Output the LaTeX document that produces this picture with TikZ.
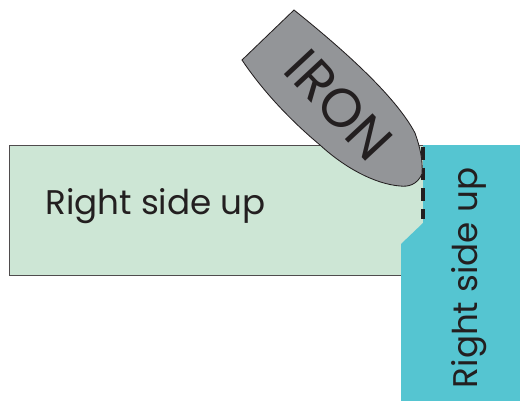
\documentclass[tikz,border=0pt]{standalone}
\usepackage{fontspec}
\setmainfont{Poppins}
\definecolor{cloth}{HTML}{CDE6D5}
\definecolor{facing}{HTML}{55C5D1}
\definecolor{ironbody}{HTML}{939598}
\definecolor{inkline}{HTML}{231F20}
\begin{document}
\begin{tikzpicture}[x=0.025cm, y=-0.025cm, every node/.style={font=\fontsize{24.3}{25}\selectfont, text=inkline}]
\useasboundingbox (0,0) rectangle (520,401);
\draw[fill=cloth,draw=inkline!80,line width=0.5pt] (9,145) rectangle (425,275);
\fill[facing] (423,145)--(520,145)--(520,401)--(401,401)--(401,244)--(423,223)--cycle;
\draw[inkline,line width=2.3pt,dash pattern=on 9pt off 5.7pt] (423,147)--(423,219);
\draw[fill=ironbody,draw=inkline,line width=0.6pt] (294,10)
  .. controls (340,47) and (395,95) .. (415,133)
  .. controls (420,147) and (423,160) .. (422,174)
  .. controls (417,185) and (408,187) .. (400,186)
  .. controls (375,184) and (345,168) .. (320,145)
  .. controls (290,120) and (262,90) .. (242,60) -- cycle;
\node (iron) at (339,105) [rotate=-47,font=\fontsize{38.5}{38}\selectfont] {IRON};
\node (clothlabel) at (155.5,206) {Right side up};
\node (facinglabel) at (469,278) [rotate=90] {Right side up};
\end{tikzpicture}
\end{document}
